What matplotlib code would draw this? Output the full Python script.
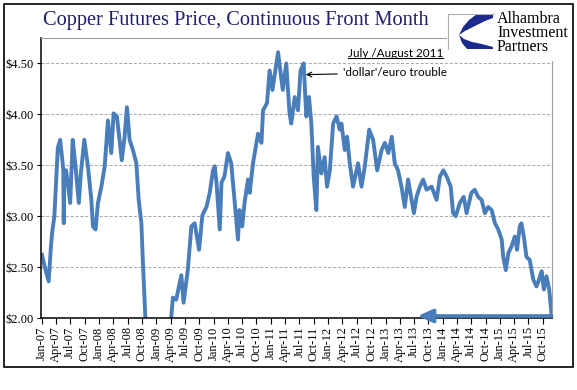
import pandas as pd
import matplotlib.pyplot as plt
import matplotlib.dates as mdates
from matplotlib.patches import Rectangle, Polygon
from matplotlib.lines import Line2D

# Copper front-month price (values under $2.00 fall off the axis)
dates = [
    '2007-01-02', '2007-01-20', '2007-02-14', '2007-02-28', '2007-03-08', '2007-03-22',
    '2007-04-13', '2007-04-28', '2007-05-14', '2007-05-18', '2007-05-21', '2007-05-24',
    '2007-06-05', '2007-07-01', '2007-07-17', '2007-08-04', '2007-08-25', '2007-09-07',
    '2007-09-29', '2007-10-22', '2007-11-13', '2007-11-23', '2007-12-10', '2007-12-25',
    '2008-01-16', '2008-02-06', '2008-02-27', '2008-03-19', '2008-04-03', '2008-04-24',
    '2008-05-25', '2008-06-12', '2008-06-27', '2008-07-14', '2008-08-04', '2008-08-26',
    '2008-09-10', '2008-09-27', '2008-10-07', '2008-10-24', '2008-11-15', '2008-12-15',
    '2009-01-15', '2009-02-15', '2009-03-15', '2009-04-06', '2009-04-16', '2009-05-07',
    '2009-06-09', '2009-06-23', '2009-07-20', '2009-08-12', '2009-09-02', '2009-09-30',
    '2009-10-21', '2009-11-16', '2009-12-07', '2009-12-28', '2010-01-08', '2010-01-19',
    '2010-02-09', '2010-02-20', '2010-03-11', '2010-04-02', '2010-04-23', '2010-05-14',
    '2010-06-05', '2010-06-15', '2010-07-02', '2010-07-17', '2010-08-08', '2010-08-19',
    '2010-09-09', '2010-10-11', '2010-11-02', '2010-11-12', '2010-12-07', '2010-12-24',
    '2011-01-11', '2011-02-02', '2011-02-16', '2011-03-02', '2011-03-18', '2011-04-09',
    '2011-04-30', '2011-05-11', '2011-06-02', '2011-06-23', '2011-07-09', '2011-07-29',
    '2011-08-15', '2011-09-01', '2011-09-16', '2011-10-01', '2011-10-18', '2011-10-28',
    '2011-11-19', '2011-12-10', '2011-12-25', '2012-01-12', '2012-02-02', '2012-02-24',
    '2012-03-15', '2012-03-26', '2012-04-16', '2012-05-01', '2012-05-18', '2012-06-08',
    '2012-07-10', '2012-08-01', '2012-08-22', '2012-09-19', '2012-10-14', '2012-11-09',
    '2012-12-07', '2012-12-28', '2013-01-19', '2013-02-10', '2013-03-01', '2013-03-22',
    '2013-04-13', '2013-05-04', '2013-05-25', '2013-06-16', '2013-07-01', '2013-07-18',
    '2013-08-08', '2013-08-29', '2013-09-20', '2013-10-22', '2013-11-23', '2013-12-14',
    '2014-01-05', '2014-01-26', '2014-02-21', '2014-03-08', '2014-03-25', '2014-04-20',
    '2014-05-15', '2014-06-02', '2014-07-03', '2014-07-24', '2014-08-15', '2014-09-06',
    '2014-09-27', '2014-10-18', '2014-11-09', '2014-11-30', '2014-12-21', '2015-01-12',
    '2015-01-22', '2015-02-07', '2015-02-24', '2015-03-15', '2015-04-06', '2015-04-20',
    '2015-05-07', '2015-05-18', '2015-06-02', '2015-06-19', '2015-07-10', '2015-08-01',
    '2015-08-22', '2015-09-08', '2015-09-24', '2015-10-08', '2015-10-25', '2015-11-11',
    '2015-11-27',
]
prices = [
    2.62, 2.50, 2.36, 2.70, 2.84, 3.00,
    3.67, 3.75, 3.52, 3.45, 2.93, 3.45,
    3.45, 3.13, 3.75, 3.49, 3.13, 3.42,
    3.75, 3.49, 3.16, 2.90, 2.87, 3.13,
    3.29, 3.49, 3.94, 3.62, 4.01, 3.98,
    3.55, 3.78, 4.07, 3.75, 3.65, 3.52,
    3.16, 2.93, 2.54, 1.95, 1.65, 1.35,
    1.45, 1.50, 1.80, 2.02, 2.20, 2.18,
    2.42, 2.15, 2.47, 2.90, 2.93, 2.67,
    3.01, 3.09, 3.23, 3.45, 3.49, 3.33,
    2.87, 3.33, 3.39, 3.62, 3.52, 3.16,
    2.77, 3.06, 2.90, 3.13, 3.36, 3.23,
    3.52, 3.81, 3.72, 4.04, 4.11, 4.43,
    4.24, 4.47, 4.61, 4.43, 4.24, 4.50,
    4.01, 3.91, 4.17, 4.04, 4.43, 4.50,
    3.98, 4.17, 3.91, 3.39, 3.06, 3.68,
    3.42, 3.58, 3.29, 3.45, 3.91, 3.98,
    3.85, 3.91, 3.65, 3.78, 3.52, 3.29,
    3.52, 3.29, 3.49, 3.85, 3.75, 3.45,
    3.65, 3.72, 3.62, 3.78, 3.52, 3.45,
    3.29, 3.09, 3.36, 3.16, 3.03, 3.19,
    3.29, 3.36, 3.26, 3.29, 3.16, 3.39,
    3.45, 3.39, 3.29, 3.03, 3.00, 3.13,
    3.19, 3.03, 3.23, 3.26, 3.19, 3.16,
    3.03, 3.09, 3.06, 2.93, 2.87, 2.77,
    2.60, 2.47, 2.64, 2.70, 2.80, 2.67,
    2.90, 2.93, 2.80, 2.60, 2.57, 2.38,
    2.31, 2.38, 2.46, 2.28, 2.41, 2.28,
    2.02,
]

tick_dates = pd.date_range('2007-01-01', '2015-10-01', freq='QS')
y_ticks = [2.00, 2.50, 3.00, 3.50, 4.00, 4.50]

title = 'Copper Futures Price, Continuous Front Month'
note_head = 'July /August 2011'
note_body = "'dollar'/euro trouble"
logo_lines = ['Alhambra', 'Investment', 'Partners']

blue = '#4a7ebb'
navy = '#1f1f6b'
serif = 'Liberation Serif'

fig = plt.figure(figsize=(5.77, 3.90), dpi=100)

# outer frame
fig.patches.append(Rectangle((0.007, 0.059), 0.986, 0.931, transform=fig.transFigure,
                             fill=False, edgecolor='black', lw=1.2))

ax = fig.add_axes([0.0711, 0.1846, 0.8856, 0.718])
ax.plot(pd.to_datetime(dates), prices, color=blue, lw=2.8, solid_joinstyle='round')

ax.set_ylim(2.0, 4.75)
ax.set_xlim(pd.Timestamp('2006-12-27'), pd.Timestamp('2015-11-29'))
ax.set_yticks(y_ticks)
ax.set_yticklabels(['${:.2f}'.format(v) for v in y_ticks], fontfamily=serif, fontsize=9)
ax.set_xticks(tick_dates)
ax.xaxis.set_major_formatter(mdates.DateFormatter('%b-%y'))
for lab in ax.get_xticklabels():
    lab.set_fontfamily(serif)
    lab.set_fontsize(9)
    lab.set_rotation(90)
ax.tick_params(axis='x', direction='out', length=4, pad=2)
ax.tick_params(axis='y', direction='out', length=3, pad=2)
ax.grid(axis='y', color='#a6a6a6', linestyle=(0, (3, 2)), lw=0.7)
ax.set_axisbelow(True)
for side in ['top', 'right']:
    ax.spines[side].set_color('#a0a0a0')
for side in ['left', 'bottom']:
    ax.spines[side].set_color('black')
    ax.spines[side].set_linewidth(1.1)

# annotation about 2011
ax.annotate(note_body, xy=(pd.Timestamp('2011-08-12'), 4.39),
            xytext=(pd.Timestamp('2012-04-04'), 4.41), fontfamily='Lato', fontsize=8.5,
            va='center', ha='left',
            arrowprops=dict(arrowstyle='->', color='black', lw=0.8, shrinkA=2, shrinkB=0))
head = ax.text(pd.Timestamp('2012-05-05'), 4.60, note_head, fontfamily='Lato',
               fontsize=8.5, va='center', ha='left')

# arrow along the bottom back to 2013
ax.annotate('', xy=(pd.Timestamp('2013-07-25'), 2.02), xytext=(pd.Timestamp('2015-11-27'), 2.02),
            arrowprops=dict(arrowstyle='-|>,head_length=0.9,head_width=0.4', color=blue,
                            lw=2.6, shrinkA=0, shrinkB=0))

fig.text(0.075, 0.948, title, fontfamily=serif, fontsize=14.7, color=navy, va='center')

# logo block sits on a white patch over the top right corner
logo = fig.add_axes([447 / 577, 1 - 61 / 390, 126 / 577, 49 / 390])
logo.set_xlim(0, 126)
logo.set_ylim(49, 0)
logo.axis('off')
logo.add_patch(Rectangle((0, 0), 126, 49, facecolor='white', edgecolor='none'))
logo.plot([1, 1, 47], [37, 2, 2], color='#b0b0b0', lw=0.8)
logo.add_patch(Polygon([(30, 2), (46, 2), (46, 6), (38, 9), (28, 14), (18, 19), (12, 23),
                        (16, 15), (22, 8)],
                       facecolor='#1c2a8c', edgecolor='none'))
logo.add_patch(Polygon([(12, 23), (15, 31), (20, 37), (46, 37), (46, 35), (35, 32),
                        (25, 30), (17, 27)],
                       facecolor='#1c2a8c', edgecolor='none'))
logo.text(50, 21, '\n'.join(logo_lines), fontfamily=serif, fontsize=11.5, va='center',
          ha='left', linespacing=0.86)

# underline the annotation heading
fig.canvas.draw()
bb = head.get_window_extent().transformed(fig.transFigure.inverted())
fig.lines.append(Line2D([bb.x0, bb.x1], [bb.y0 + 0.002, bb.y0 + 0.002],
                        transform=fig.transFigure, color='black', lw=0.8))

fig.savefig('out.png', dpi=100)
